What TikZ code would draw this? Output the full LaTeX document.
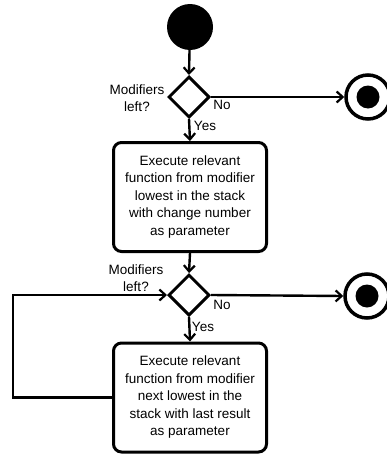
\documentclass[tikz,border=0pt]{standalone}
\usepackage{fontspec}
\setmainfont{Liberation Sans}
\usetikzlibrary{shapes.geometric,arrows.meta}

\begin{document}
\begin{tikzpicture}[x=1pt,y=-1pt,
  every node/.style={font=\fontsize{13.5pt}{17.5pt}\selectfont},
  flow/.style={line width=2.4pt,
    -{Straight Barb[length=6pt,width=11pt,line width=2.2pt]}},
  plain/.style={line width=2.8pt},
  stepbox/.style={draw, rectangle, rounded corners=8pt, line width=3pt,
    minimum width=153pt, minimum height=109pt, inner sep=0pt, align=center},
  choice/.style={draw, diamond, line width=3pt, minimum width=41pt,
    minimum height=41pt, inner sep=0pt},
  initial/.style={circle, fill=black, minimum size=46pt, inner sep=0pt},
  final/.style={circle, draw, line width=3.5pt, minimum size=44pt, inner sep=0pt},
  lbl/.style={inner sep=0pt, align=center}
]
\useasboundingbox (0,0) rectangle (387,455);

% start and decisions
\node[initial] (start) at (190,27) {};
\node[choice] (d1) at (189,97) {};
\node[choice] (d2) at (189,295) {};

% actions
\node[stepbox] (b1) at (190,197) {Execute relevant\\function from modifier\\lowest in the stack\\with change number\\as parameter};
\node[stepbox] (b2) at (190,397.5) {Execute relevant\\function from modifier\\next lowest in the\\stack with last result\\as parameter};

% final states
\node[final] (e1) at (368,97) {};
\fill (e1.center) circle (11.5);
\node[final] (e2) at (367,296) {};
\fill (e2.center) circle (11.5);

% labels
\node[lbl] (q1) at (137,98) {Modifiers\\left?};
\node[lbl] (q2) at (136,278) {Modifiers\\left?};
\node[lbl] (n1) at (222,105) {No};
\node[lbl] (y1) at (205,126) {Yes};
\node[lbl] (n2) at (222,305) {No};
\node[lbl] (y2) at (203,327) {Yes};

% connectors
\draw[flow] (start) -- (d1.north);
\draw[flow] (d1.east) -- (e1.west);
\draw[flow] (d1.south) -- (b1.north);
\draw[flow] (b1.south) -- (d2.north);
\draw[flow] (d2.east) -- (e2.west);
\draw[flow] (d2.south) -- (b2.north);
\coordinate (loop) at (13,397.5);
\draw[flow] (b2.west) -- (loop) |- (d2.west);
\end{tikzpicture}
\end{document}
